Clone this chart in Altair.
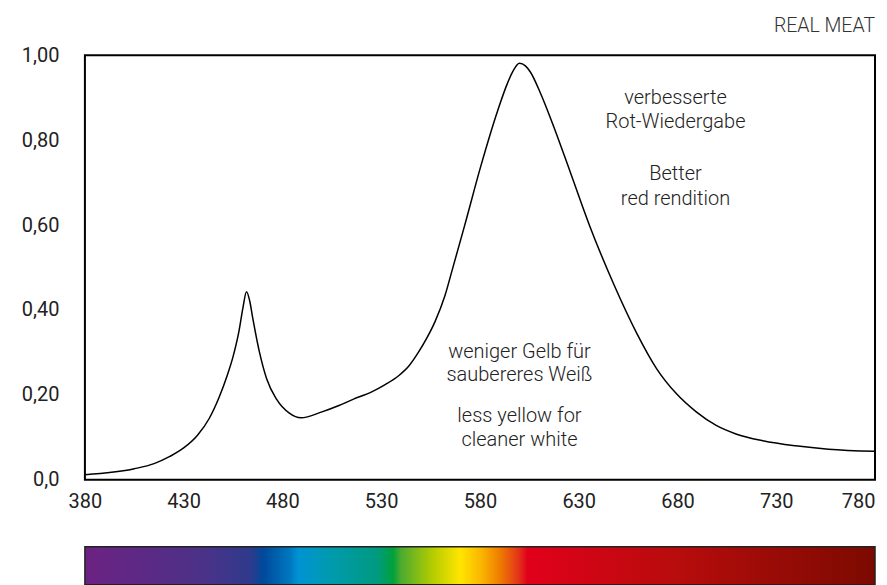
import altair as alt
import pandas as pd

# Spectrum curve (wavelength nm, relative intensity)
wavelength = [380, 405, 415, 423, 430, 437, 443, 448, 452, 455, 458, 460, 461.8,
              463.5, 465, 468.4, 472, 477, 483.5, 489.4, 500, 508.6, 516, 525.2, 532,
              538.8, 544, 548.8, 553, 557.2, 562.3, 566, 572.3, 580.5, 589, 594, 597,
              600, 603, 605.6, 610.7, 617.5, 625.7, 635.8, 647.8, 659.4, 669.4, 679.4,
              689.5, 699.6, 709.6, 723.2, 739.8, 756.4, 780]
intensity = [0.012, 0.026, 0.038, 0.055, 0.075, 0.105, 0.145, 0.195, 0.245, 0.29,
             0.35, 0.405, 0.443, 0.42, 0.38, 0.30, 0.238, 0.19, 0.157, 0.146, 0.16,
             0.175, 0.19, 0.207, 0.224, 0.245, 0.268, 0.30, 0.333, 0.372, 0.434, 0.495,
             0.60, 0.74, 0.87, 0.935, 0.965, 0.981, 0.975, 0.96, 0.91, 0.83, 0.725,
             0.595, 0.46, 0.345, 0.262, 0.203, 0.16, 0.128, 0.108, 0.092, 0.08, 0.072,
             0.067]

x_ticks = [380, 430, 480, 530, 580, 630, 680, 730, 780]
y_ticks = [0, 0.2, 0.4, 0.6, 0.8, 1.0]

# Annotations
note_x = [679, 679, 679, 679, 600, 600, 600, 600]
note_y = [0.899, 0.842, 0.72, 0.661, 0.301, 0.247, 0.151, 0.094]
note_text = ["verbesserte", "Rot-Wiedergabe", "Better", "red rendition",
             "weniger Gelb für", "saubereres Weiß", "less yellow for", "cleaner white"]

# Visible-spectrum colour bar
spectrum_nm = [380, 440, 464, 470, 484, 488, 504, 528, 536, 540, 556, 570, 580, 590,
               600, 604, 680, 780]
spectrum_colors = ["#6d2283", "#4b3288", "#2e3a8c", "#00489a", "#0078c0", "#0093d3",
                   "#009aaf", "#009a80", "#00a13c", "#4caa30", "#b5cc00", "#ffe500",
                   "#fbb900", "#ef7d00", "#e2301a", "#e1001a", "#b70c0c", "#7b0a00"]

FONT = "Roboto"
curve = pd.DataFrame({"wl": wavelength, "v": intensity})
notes = pd.DataFrame({"wl": note_x, "v": note_y, "t": note_text})

xscale = alt.Scale(domain=[380, 780], nice=False, zero=False)
yscale = alt.Scale(domain=[0, 1], nice=False)

x_axis = alt.Axis(values=x_ticks, title=None, ticks=False, grid=False, domain=False,
                  labelFont=FONT, labelFontSize=20, labelColor="#222",
                  labelPadding=12, minExtent=33, maxExtent=33, labelFlush=False,
                  labelAlign=alt.condition("datum.value == 780", alt.value("right"),
                                           alt.value("center")))
y_axis = alt.Axis(values=y_ticks, title=None, ticks=False, grid=False, domain=False,
                  labelFont=FONT, labelFontSize=20, labelColor="#222",
                  labelPadding=26, minExtent=70, maxExtent=70,
                  labelExpr="datum.value == 0 ? '0,0' : replace(format(datum.value, '.2f'), '.', ',')")

line = alt.Chart(curve).mark_line(color="#000", strokeWidth=1.5, interpolate="monotone").encode(
    x=alt.X("wl:Q", scale=xscale, axis=x_axis),
    y=alt.Y("v:Q", scale=yscale, axis=y_axis),
)
text = alt.Chart(notes).mark_text(font=FONT, fontSize=20, fontWeight=300, color="#222",
                                  align="center", baseline="middle").encode(
    x=alt.X("wl:Q", scale=xscale),
    y=alt.Y("v:Q", scale=yscale),
    text="t:N",
)

main = alt.layer(line, text).properties(
    width=791, height=425,
    view=alt.ViewBackground(stroke="#000", strokeWidth=2),
    title=alt.TitleParams("REAL MEAT", anchor="end", frame="group", font=FONT,
                          fontSize=19.5, fontWeight=300, color="#333", offset=9),
)

stops = [alt.GradientStop(offset=(n - 380) / 400, color=c)
         for n, c in zip(spectrum_nm, spectrum_colors)]
bar_df = pd.DataFrame({"start": [spectrum_nm[0]], "end": [spectrum_nm[-1]],
                       "lo": [0], "hi": [1]})
bar = alt.Chart(bar_df).mark_rect(
    color=alt.Gradient(gradient="linear", stops=stops, x1=0, x2=1, y1=0, y2=0),
    stroke="#222", strokeWidth=1.5,
).encode(
    x=alt.X("start:Q", scale=xscale, axis=None),
    x2="end:Q",
    y=alt.Y("lo:Q", scale=alt.Scale(domain=[0, 1]), axis=None),
    y2="hi:Q",
).properties(width=791, height=38, view=alt.ViewBackground(strokeWidth=0))

chart = alt.vconcat(main, bar, spacing=32).properties(
    padding={"left": 6, "top": 6, "right": 0, "bottom": 0}
).configure_view(stroke=None)

chart.save("out.html", embed_options={"renderer": "svg", "actions": False})
